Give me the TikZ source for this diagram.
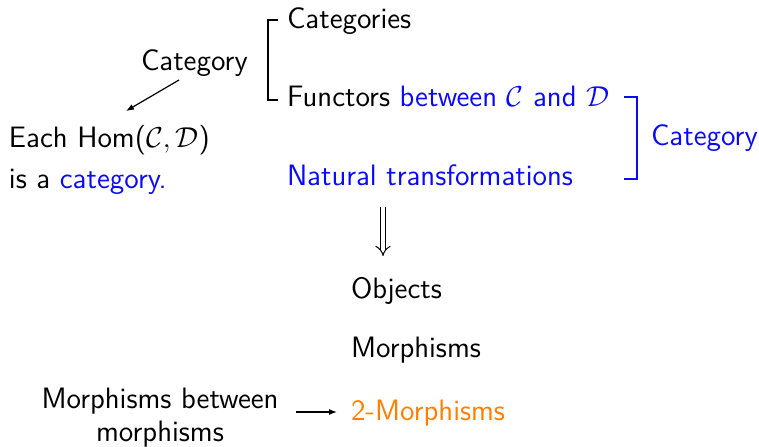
\documentclass[tikz,border=0pt]{standalone}
\usetikzlibrary{arrows.meta,calc}
\definecolor{myblue}{RGB}{10,10,245}
\definecolor{myorange}{RGB}{255,128,0}
\begin{document}
\begin{tikzpicture}[x=0.5pt,y=-0.5pt,
  every node/.style={inner sep=0pt,outer sep=0pt,font=\sffamily\fontsize{14.75}{20}\selectfont},
  lbl/.style={anchor=base west},
  brk/.style={line width=0.7pt},
  arr/.style={line width=0.6pt,-{Latex[length=4pt,width=3pt]}}]
\useasboundingbox (0,0) rectangle (759,446);
\node[lbl] (cats) at (287,28) {Categories};
\node[lbl] (func) at (287,106) {Functors \textcolor{myblue}{between $\mathcal{C}$ and $\mathcal{D}$}};
\node[lbl,text=myblue] (nat) at (287,185) {Natural transformations};
\node[lbl] (cat) at (141,70) {Category};
\node[lbl] (hom) at (9,147) {Each Hom($\mathcal{C},\mathcal{D}$)};
\node[lbl] (isa) at (9,188) {is a \textcolor{myblue}{category.}};
\node[lbl,text=myblue] (bcat) at (651,145) {Category};
\node[lbl] (obj) at (351,298) {Objects};
\node[lbl] (mor) at (351,357) {Morphisms};
\node[lbl,text=myorange] (two) at (351,420) {2-Morphisms};
\node[align=center,anchor=north,font=\sffamily\fontsize{14.75}{16.5}\selectfont] (mbm) at (160,388) {Morphisms between\\morphisms};
% left bracket
\draw[brk] (278,20) -- (268,20) -- (268,100) -- (278,100);
% right bracket
\draw[brk,myblue] (624,97) -- (637,97) -- (637,179) -- (624,179);
% arrows
\coordinate (a1) at (179,80);
\coordinate (a2) at (126,111);
\draw[arr] (a1) -- (a2);
\coordinate (d1) at (383,207);
\coordinate (d2) at (383,256);
\draw[line width=0.5pt,double distance=2.2pt,-{Implies[length=5pt,width=9pt]}] (d1) -- (d2);
\coordinate (m1) at (296,412);
\coordinate (m2) at (337,412);
\draw[arr] (m1) -- (m2);
\end{tikzpicture}
\end{document}
